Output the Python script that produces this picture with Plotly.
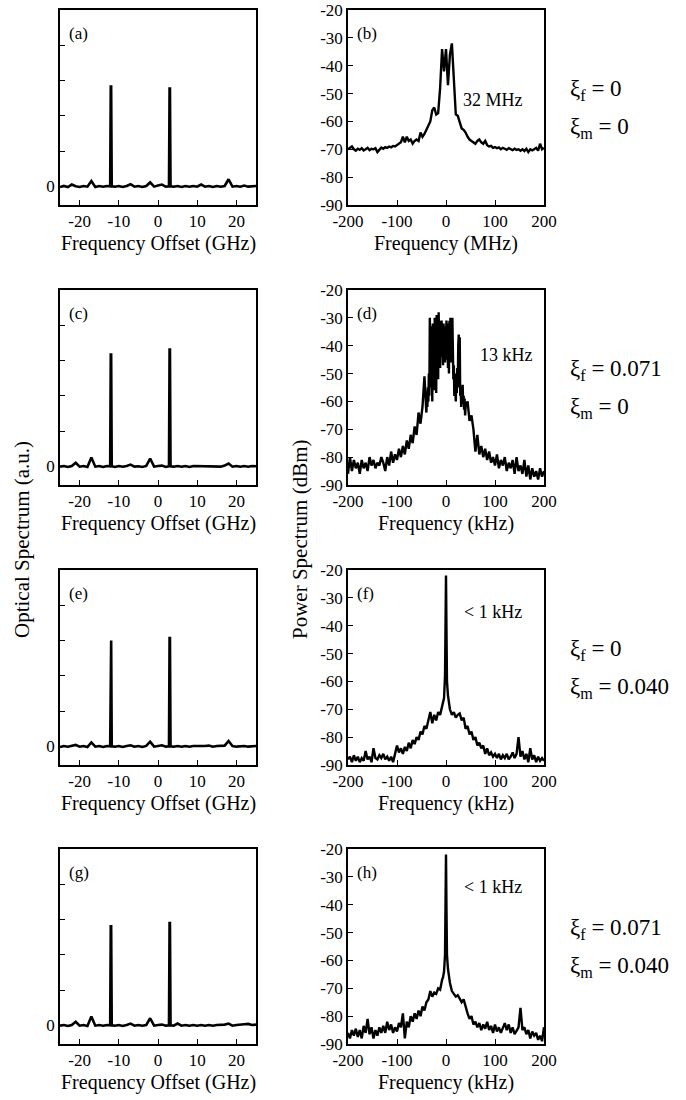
import plotly.graph_objects as go

W, H = 686, 1100

# ---------------- data ----------------
# optical spectra (GHz offset, a.u.)
x_opt = [-25, -24, -23, -22, -21, -20, -19, -18, -17, -16, -15, -14, -13,
         -12.2, -12.05, -11.95, -11.8,
         -11, -10, -9, -8, -7, -6, -5, -4, -3, -2, -1, 0, 1, 2,
         2.8, 2.95, 3.05, 3.2,
         4, 5, 6, 7, 8, 9, 10, 11, 12, 13, 14, 15, 16, 17, 18, 19, 20, 21, 22, 23, 24, 25]

opt_a = [-0.02, 0.01, -0.02, 0.05, 0.0, -0.02, 0.01, -0.01, 0.15, -0.02, 0.01, -0.01, 0.01,
         0.0, 2.83, 2.83, 0.0,
         -0.01, 0.01, -0.02, 0.01, 0.06, -0.01, 0.01, -0.02, 0.01, 0.11, -0.01, 0.02, 0.05, -0.01,
         0.0, 2.77, 2.77, 0.0,
         -0.01, 0.01, -0.02, 0.01, -0.01, 0.01, -0.01, 0.05, -0.01, 0.01, -0.02, 0.01, -0.01, 0.01, 0.2, -0.01, 0.01, -0.01, 0.02, -0.01, 0.01, 0.01]

opt_c = [-0.01, 0.01, -0.02, 0.01, 0.1, -0.01, 0.01, -0.02, 0.25, -0.01, 0.01, -0.02, 0.01,
         0.0, 3.17, 3.17, 0.0,
         -0.02, 0.01, -0.01, 0.01, 0.05, -0.01, 0.0, -0.02, 0.01, 0.22, -0.01, 0.01, 0.02, -0.02,
         0.0, 3.31, 3.31, 0.0,
         -0.01, 0.01, -0.01, 0.01, -0.02, 0.01, 0.01, -0.01, 0.01, 0.01, -0.01, 0.01, -0.01, 0.02, 0.08, -0.01, 0.01, -0.01, 0.01, -0.01, 0.01, 0.0]

opt_e = [-0.02, 0.01, -0.01, 0.02, 0.04, -0.01, 0.01, -0.02, 0.11, -0.01, 0.01, -0.02, 0.01,
         0.0, 3.00, 3.00, 0.0,
         -0.01, 0.01, -0.02, 0.01, 0.03, -0.01, 0.01, -0.02, 0.01, 0.13, -0.01, 0.01, 0.03, -0.01,
         0.0, 3.07, 3.07, 0.0,
         -0.01, 0.01, -0.01, 0.01, -0.01, 0.01, 0.01, -0.01, 0.01, 0.02, -0.01, 0.01, 0.01, 0.02, 0.15, 0.01, -0.01, 0.01, 0.01, -0.01, 0.01, 0.01]

opt_g = [-0.01, 0.01, -0.02, 0.01, 0.1, -0.01, 0.01, -0.02, 0.25, -0.01, 0.01, -0.01, 0.01,
         0.0, 2.81, 2.81, 0.0,
         -0.01, 0.01, -0.02, 0.01, 0.05, -0.01, 0.01, -0.01, 0.01, 0.2, -0.01, 0.01, 0.02, -0.01,
         0.0, 2.90, 2.90, 0.0,
         -0.01, 0.05, -0.01, 0.01, -0.01, 0.01, -0.01, 0.01, -0.01, 0.01, -0.01, 0.01, 0.01, 0.02, 0.05, -0.01, 0.01, 0.01, 0.03, 0.04, 0.01, 0.02]

# beat-note power spectra (dBm)
x_b = list(range(-200, 201, 4))  # MHz sampling grid
psd_b = [-70, -69.5, -69, -70, -70.5, -69.8, -70.2, -69.6, -70.4, -70,
         -69.5, -70.3, -69.8, -70, -69.6, -71, -70.2, -69.4, -69.8, -69.2,
         -69.5, -69, -69.3, -68.8, -69, -68.5, -68, -67.5, -65.5, -67.5,
         -65.5, -67, -66.5, -68, -67, -66.5, -67, -64, -65.5, -64.5,
         -63, -61.5, -60, -56, -55, -57.5, -57, -48, -34, -42,
         -34, -47, -36, -32, -45, -57.5, -58, -60, -62.5, -63,
         -64, -65.5, -66.5, -67, -67.5, -68, -67, -66.5, -67.5, -68,
         -67, -68.5, -69, -68.8, -69.5, -69.2, -69.6, -69.3, -70, -69.5,
         -69.8, -70.2, -69.6, -70, -70.3, -69.8, -70.2, -70, -70.5, -70,
         -70.6, -69.8, -71, -70, -70.4, -70, -69.5, -70.5, -68, -70, -69.5]

# kHz sampling grid for (d): coarse wings, 1 kHz steps across the central block
x_d = list(range(-200, -40, 4)) + list(range(-40, 41, 1)) + list(range(44, 201, 4))
psd_d = [-86, -80, -85, -81, -84, -82, -86, -81, -84, -82,
         -85, -80, -83, -81, -84, -82, -83, -80, -82, -85,
         -80, -83, -78, -82, -79, -81, -77, -80, -76, -79,
         -74, -77, -72, -75, -69, -72, -64, -68, -62, -51,
         # -40 .. 40 kHz
         -64, -58, -62, -55, -60, -50, -58, -30, -52, -33,
         -55, -45, -60, -32, -48, -35, -56, -30, -50, -38,
         -57, -29, -45, -33, -52, -28, -40, -31, -48, -33,
         -44, -31, -38, -36, -47, -32, -40, -35, -46, -33,
         -38,
         -31, -45, -32, -48, -33, -50, -31, -42, -30, -46,
         -31, -40, -30, -44, -52, -47, -58, -50, -55, -60,
         -52, -57, -48, -55, -40, -36, -50, -37, -58, -55,
         -62, -56, -60, -54, -61, -58, -63, -59, -65, -62,
         # 44 .. 200 kHz
         -60, -67, -65, -70, -78, -72, -79, -76, -80, -77,
         -81, -78, -82, -80, -83, -79, -84, -81, -83, -80,
         -85, -82, -84, -81, -86, -80, -85, -83, -86, -81,
         -87, -83, -88, -84, -87, -85, -88, -84, -87, -85]

x_fh = [-200, -196, -192, -188, -184, -180, -176, -172, -168, -164,
        -160, -156, -152, -148, -144, -140, -136, -132, -128, -124,
        -120, -116, -112, -108, -104, -100, -96, -92, -88, -84,
        -80, -76, -72, -68, -64, -60, -56, -52, -48, -44,
        -40, -36, -32, -28, -24, -20, -16, -12, -8,
        -6, -4, -2, -1, 0, 1, 2, 4, 6,
        8, 12, 16, 20, 24, 28, 32, 36, 40, 44,
        48, 52, 56, 60, 64, 68, 72, 76, 80, 84,
        88, 92, 96, 100, 104, 108, 112, 116, 120, 124,
        128, 132, 136, 140, 144, 148, 152, 156, 160, 164,
        168, 172, 176, 180, 184, 188, 192, 196, 200]

psd_f = [-88, -87, -89, -86.5, -88.5, -87, -89, -87.5, -88.5, -85,
         -88, -87, -89, -84, -87.5, -88, -86.5, -87.5, -86, -88,
         -87, -88.5, -87, -89, -86, -83, -85.5, -84, -86, -83.5,
         -85, -82, -84, -81, -82.5, -80, -81, -78, -79, -76,
         -77, -74, -71, -75, -72, -74, -71, -72, -69,
         -68, -66, -58, -40, -22, -42, -60, -65, -68,
         -70, -72, -71, -73, -72, -71.5, -74, -73, -77, -76,
         -79, -78, -81, -80, -83, -82, -84, -83, -86, -84,
         -86.5, -85.5, -87, -86, -87.5, -86, -88, -86.5, -87.5, -86,
         -88, -87, -85.5, -87.5, -86, -80, -87, -85, -88, -86,
         -89, -84, -88, -86.5, -89, -87, -88.5, -87.5, -88.5]

psd_h = [-86, -88, -85, -87, -84.5, -87.5, -85, -88, -83.5, -86,
         -81, -86.5, -84, -88, -85, -87, -84, -86, -83.5, -86,
         -82, -85, -83, -86, -84, -85.5, -82.5, -84, -79, -88,
         -82, -84, -80, -82, -79, -81, -78, -80, -76.5, -78,
         -75, -74, -71, -73, -71.5, -72, -70, -70.5, -67,
         -66, -64, -58, -40, -22, -42, -58, -63, -66,
         -68, -71, -72, -73, -72.5, -74, -75, -74, -77, -79,
         -81, -80, -83, -82, -84, -82.5, -85, -83, -84.5, -82,
         -85, -83.5, -86, -83, -85.5, -84, -86, -84.5, -82.5, -85,
         -83, -86, -84, -86.5, -85, -84, -77, -85, -84, -86.5,
         -85, -88, -85.5, -87, -86, -88.5, -87, -89, -84]

# tick labels
opt_tickvals = [0]
opt_ticktext = ["0"]
opt_minor_ticks = [1, 2, 3, 4]
opt_xtickvals = [-20, -10, 0, 10, 20]
opt_xticktext = ["-20", "-10", "0", "10", "20"]
psd_ytickvals = [-20, -30, -40, -50, -60, -70, -80, -90]
psd_yticktext = ["-20", "-30", "-40", "-50", "-60", "-70", "-80", "-90"]
psd_xtickvals = [-200, -100, 0, 100, 200]
psd_xticktext = ["-200", "-100", "0", "100", "200"]

panel_letters = ["(a)", "(b)", "(c)", "(d)", "(e)", "(f)", "(g)", "(h)"]
linewidth_notes = ["32 MHz", "13 kHz", "< 1 kHz", "< 1 kHz"]
xi_f = ["0", "0.071", "0", "0.071"]
xi_m = ["0", "0", "0.040", "0.040"]
right_xtitles = ["Frequency (MHz)", "Frequency (kHz)", "Frequency (kHz)", "Frequency (kHz)"]

# ---------------- layout geometry (pixels) ----------------
FONT = "Liberation Serif, Times New Roman, DejaVu Serif, serif"
row_tops = [10, 290, 570, 849]
box_h = 195
left_x = (60, 256)
right_x = (348, 544)
note_dy = [90, 65, 42, 38]
note_cx = [493, 506, 493, 493]


def fx(p):
    return p / W


def fy(p):
    return 1 - p / H


opt_data = [opt_a, opt_c, opt_e, opt_g]
psd_data = [(x_b, psd_b), (x_d, psd_d), (x_fh, psd_f), (x_fh, psd_h)]

fig = go.Figure()
layout = dict(
    width=W, height=H,
    margin=dict(l=0, r=0, t=0, b=0),
    paper_bgcolor="white", plot_bgcolor="white",
    showlegend=False,
    font=dict(family=FONT, color="black", size=17),
)
annotations = []

axis_common = dict(
    showline=True, linecolor="black", linewidth=1.5, mirror=True,
    ticks="inside", ticklen=5, tickwidth=1.3, tickcolor="black",
    showgrid=False, zeroline=False,
    tickfont=dict(family=FONT, size=17, color="black"),
    fixedrange=True, automargin=False,
)

for r in range(4):
    top = row_tops[r]
    bot = top + box_h
    ydom = [fy(bot), fy(top)]
    # left optical panel
    n = 2 * r + 1
    xa = "xaxis" if n == 1 else f"xaxis{n}"
    ya = "yaxis" if n == 1 else f"yaxis{n}"
    layout[xa] = dict(axis_common, domain=[fx(left_x[0]), fx(left_x[1])],
                      range=[-25, 25], tickvals=opt_xtickvals, ticktext=opt_xticktext,
                      anchor=f"y{n}" if n > 1 else "y")
    layout[ya] = dict(axis_common, domain=ydom, range=[-0.53, 5.0],
                      tickvals=opt_tickvals, ticktext=opt_ticktext,
                      minor=dict(tickvals=opt_minor_ticks, ticks="inside", ticklen=5,
                                 tickwidth=1.3, tickcolor="black", showgrid=False),
                      anchor=f"x{n}" if n > 1 else "x")
    fig.add_trace(go.Scatter(x=x_opt, y=opt_data[r], mode="lines",
                             line=dict(color="black", width=2.6),
                             xaxis=f"x{n}" if n > 1 else "x",
                             yaxis=f"y{n}" if n > 1 else "y"))
    # right power spectrum panel
    m = 2 * r + 2
    layout[f"xaxis{m}"] = dict(axis_common, domain=[fx(right_x[0]), fx(right_x[1])],
                               range=[-200, 200], tickvals=psd_xtickvals, ticktext=psd_xticktext,
                               anchor=f"y{m}")
    layout[f"yaxis{m}"] = dict(axis_common, domain=ydom, range=[-90, -20],
                               tickvals=psd_ytickvals, ticktext=psd_yticktext,
                               anchor=f"x{m}")
    xs, ys = psd_data[r]
    fig.add_trace(go.Scatter(x=xs, y=ys, mode="lines",
                             line=dict(color="black", width=2.4),
                             xaxis=f"x{m}", yaxis=f"y{m}"))

    # x-axis titles
    annotations.append(dict(text="Frequency Offset (GHz)", xref="paper", yref="paper",
                            x=fx((left_x[0] + left_x[1]) / 2), y=fy(bot + 38),
                            xanchor="center", yanchor="middle", showarrow=False,
                            font=dict(family=FONT, size=20)))
    annotations.append(dict(text=right_xtitles[r], xref="paper", yref="paper",
                            x=fx((right_x[0] + right_x[1]) / 2), y=fy(bot + 38),
                            xanchor="center", yanchor="middle", showarrow=False,
                            font=dict(family=FONT, size=20)))
    # panel letters
    annotations.append(dict(text=panel_letters[2 * r], xref="paper", yref="paper",
                            x=fx(left_x[0] + 7), y=fy(top + 23),
                            xanchor="left", yanchor="middle", showarrow=False,
                            font=dict(family=FONT, size=17)))
    annotations.append(dict(text=panel_letters[2 * r + 1], xref="paper", yref="paper",
                            x=fx(right_x[0] + 7), y=fy(top + 23),
                            xanchor="left", yanchor="middle", showarrow=False,
                            font=dict(family=FONT, size=17)))
    # linewidth notes
    annotations.append(dict(text=linewidth_notes[r], xref="paper", yref="paper",
                            x=fx(note_cx[r]), y=fy(top + note_dy[r]),
                            xanchor="center", yanchor="middle", showarrow=False,
                            font=dict(family=FONT, size=18)))
    # xi labels
    annotations.append(dict(text=f"ξ<sub>f</sub> = {xi_f[r]}", xref="paper", yref="paper",
                            x=fx(568), y=fy(top + 80),
                            xanchor="left", yanchor="middle", showarrow=False,
                            font=dict(family=FONT, size=23)))
    annotations.append(dict(text=f"ξ<sub>m</sub> = {xi_m[r]}", xref="paper", yref="paper",
                            x=fx(568), y=fy(top + 118),
                            xanchor="left", yanchor="middle", showarrow=False,
                            font=dict(family=FONT, size=23)))

# y-axis titles
annotations.append(dict(text="Optical Spectrum (a.u.)", xref="paper", yref="paper",
                        x=fx(22), y=fy(540), xanchor="center", yanchor="middle",
                        textangle=-90, showarrow=False, font=dict(family=FONT, size=21)))
annotations.append(dict(text="Power Spectrum (dBm)", xref="paper", yref="paper",
                        x=fx(300), y=fy(540), xanchor="center", yanchor="middle",
                        textangle=-90, showarrow=False, font=dict(family=FONT, size=21)))

layout["annotations"] = annotations
fig.update_layout(**layout)
fig.write_html("out.html")
